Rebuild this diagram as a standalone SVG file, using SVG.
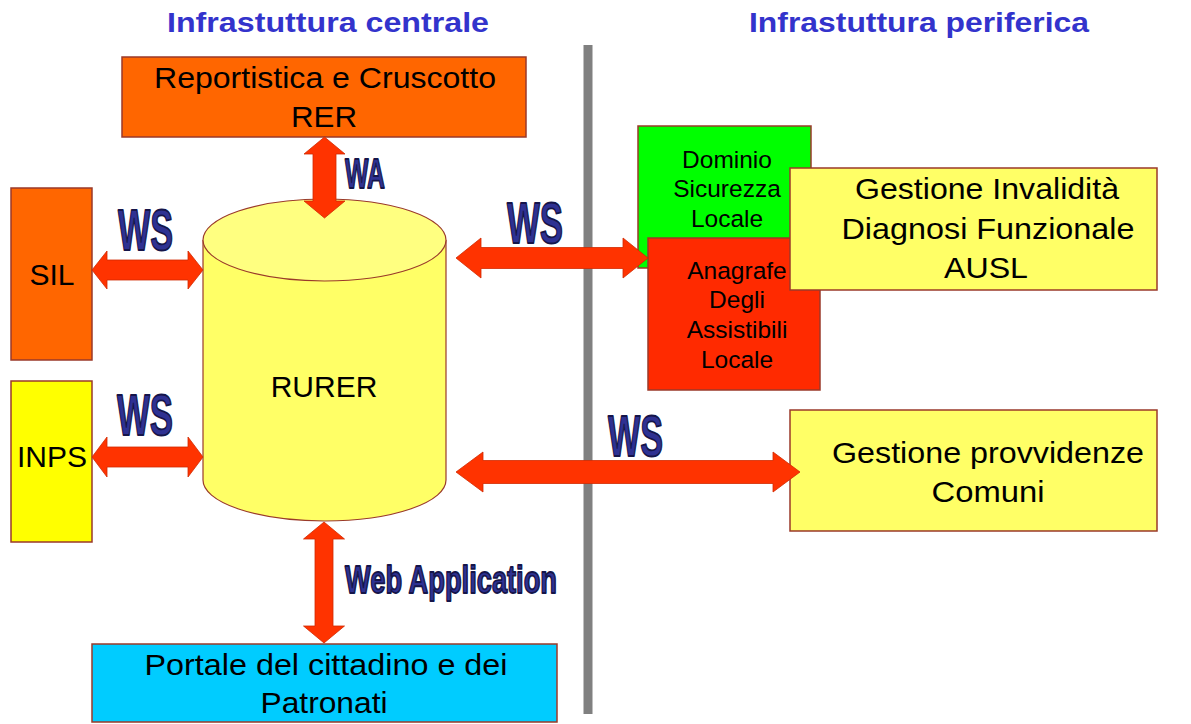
<svg xmlns="http://www.w3.org/2000/svg" width="1191" height="724" viewBox="0 0 1191 724">
<style>
.box{stroke:#9A3A2A;stroke-width:1.5}
.lbl{font-family:"Liberation Sans",Arial,sans-serif;fill:#000;text-anchor:middle}
.big{font-size:30px}
.sm{font-size:24.5px}
.hdr{font-family:"Liberation Sans",Arial,sans-serif;font-weight:bold;font-size:28px;fill:#3333CC;text-anchor:middle}
.ws{font-family:"Liberation Sans",Arial,sans-serif;font-weight:bold;fill:#2E3192;stroke:#15154A;stroke-width:1.8;stroke-linejoin:round;text-anchor:start}
.arr{fill:#FF3300;stroke:#D02A00;stroke-width:0.8}
</style>
<rect width="1191" height="724" fill="#FFFFFF"/>
<g id="headers">
<text class="hdr" x="328" y="32" textLength="322" lengthAdjust="spacingAndGlyphs">Infrastuttura centrale</text>
<text class="hdr" x="919" y="32" textLength="340" lengthAdjust="spacingAndGlyphs">Infrastuttura periferica</text>
</g>
<g id="divider"><rect x="583.5" y="45" width="9" height="669" fill="#808080"/></g>
<g id="node-reportistica">
<rect class="box" x="122" y="57" width="404" height="80" fill="#FF6600"/>
<text class="lbl big" x="325" y="88" textLength="342" lengthAdjust="spacingAndGlyphs">Reportistica e Cruscotto</text>
<text class="lbl big" x="324" y="127" textLength="66" lengthAdjust="spacingAndGlyphs">RER</text>
</g>
<g id="node-sil">
<rect class="box" x="11" y="188" width="81" height="172" fill="#FF6600"/>
<text class="lbl big" x="52" y="285">SIL</text>
</g>
<g id="node-inps">
<rect class="box" x="11" y="381" width="81" height="161" fill="#FFFF00"/>
<text class="lbl big" x="52" y="467">INPS</text>
</g>
<g id="node-rurer">
<path d="M203,240 L203,480 A121.5,41 0 0 0 446,480 L446,240" fill="#FFFF66" stroke="#9A3A2A" stroke-width="1.2"/>
<ellipse cx="324.5" cy="240" rx="121.5" ry="41" fill="#FFFF80" stroke="#9A3A2A" stroke-width="1.2"/>
<text class="lbl big" x="324" y="397">RURER</text>
</g>
<g id="node-dominio">
<rect class="box" x="638" y="126" width="173" height="142" fill="#00FF00"/>
<text class="lbl sm" x="727" y="168">Dominio</text>
<text class="lbl sm" x="727" y="197">Sicurezza</text>
<text class="lbl sm" x="727" y="227">Locale</text>
</g>
<g id="node-anagrafe">
<rect class="box" x="648" y="238" width="172" height="152" fill="#FF2A00"/>
<text class="lbl sm" x="737" y="279">Anagrafe</text>
<text class="lbl sm" x="737" y="308">Degli</text>
<text class="lbl sm" x="737" y="338">Assistibili</text>
<text class="lbl sm" x="737" y="368">Locale</text>
</g>
<g id="node-invalidita">
<rect class="box" x="790" y="168" width="367" height="122" fill="#FFFF66"/>
<text class="lbl big" x="987" y="199" textLength="264" lengthAdjust="spacingAndGlyphs">Gestione Invalidità</text>
<text class="lbl big" x="988" y="239" textLength="293" lengthAdjust="spacingAndGlyphs">Diagnosi Funzionale</text>
<text class="lbl big" x="986" y="278" textLength="84" lengthAdjust="spacingAndGlyphs">AUSL</text>
</g>
<g id="node-provvidenze">
<rect class="box" x="790" y="410" width="367" height="121" fill="#FFFF66"/>
<text class="lbl big" x="988" y="463" textLength="312" lengthAdjust="spacingAndGlyphs">Gestione provvidenze</text>
<text class="lbl big" x="988" y="502" textLength="113" lengthAdjust="spacingAndGlyphs">Comuni</text>
</g>
<g id="node-portale">
<rect class="box" x="92" y="644" width="465" height="78" fill="#00CCFF"/>
<text class="lbl big" x="326" y="675" textLength="363" lengthAdjust="spacingAndGlyphs">Portale del cittadino e dei</text>
<text class="lbl big" x="324" y="713" textLength="127" lengthAdjust="spacingAndGlyphs">Patronati</text>
</g>
<g id="connectors">
<polygon class="arr" points="324.5,137 345,154 336,154 336,201 345,201 324.5,218 304,201 313,201 313,154 304,154"/>
<polygon class="arr" points="92,270 107,251 107,260 188,260 188,251 203,270 188,289 188,280 107,280 107,289"/>
<polygon class="arr" points="92,457 107,437 107,447 188,447 188,437 203,457 188,477 188,467 107,467 107,477"/>
<polygon class="arr" points="456,258 481,238 481,247.5 623,247.5 623,238 648,258 623,278 623,268.5 481,268.5 481,278"/>
<polygon class="arr" points="456,472 483,452 483,460.5 773,460.5 773,452 800,472 773,492 773,483.5 483,483.5 483,492"/>
<polygon class="arr" points="324,522 344.5,539 333,539 333,626 344.5,626 324,643 303.5,626 315,626 315,539 303.5,539"/>
<text class="ws" x="345" y="188" font-size="43" textLength="40" lengthAdjust="spacingAndGlyphs">WA</text>
<text class="ws" x="118" y="250" font-size="58" textLength="55" lengthAdjust="spacingAndGlyphs">WS</text>
<text class="ws" x="117" y="435" font-size="58" textLength="56" lengthAdjust="spacingAndGlyphs">WS</text>
<text class="ws" x="507" y="243" font-size="58" textLength="56" lengthAdjust="spacingAndGlyphs">WS</text>
<text class="ws" x="608" y="456" font-size="58" textLength="55" lengthAdjust="spacingAndGlyphs">WS</text>
<text class="ws" x="345" y="593" font-size="39" textLength="212" lengthAdjust="spacingAndGlyphs">Web Application</text>
</g>
</svg>
